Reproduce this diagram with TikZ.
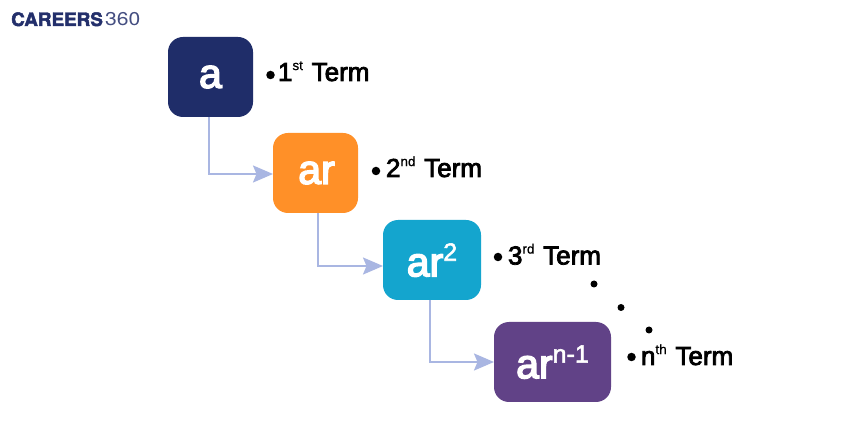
\documentclass[tikz,border=0pt]{standalone}
\usepackage{fontspec}
\setmainfont{Liberation Sans}
\newfontfamily\termfont[FakeBold=3]{Liberation Sans}
\newfontfamily\boxfont[FakeBold=3.5]{Liberation Sans}
\newfontfamily\logofont[FakeBold=2.5]{TeX Gyre Heros Bold}
\newfontfamily\logothin{TeX Gyre Heros}
\newfontfamily\supfont[FakeBold=0.8]{Liberation Sans}
\newfontfamily\boxsupfont[FakeBold=2.2]{Liberation Sans}
\usetikzlibrary{arrows.meta}
\definecolor{navy}{HTML}{1F2D69}
\definecolor{amber}{HTML}{FF9028}
\definecolor{sky}{HTML}{14A5CE}
\definecolor{plum}{HTML}{614287}
\definecolor{link}{HTML}{A9B6E2}
\definecolor{logoblue}{HTML}{232F6B}
\newcommand{\upper}[1]{\raisebox{0.42em}{\supfont\fontsize{13.5}{13.5}\selectfont #1}\hspace{1.5pt}}
\newcommand{\boxup}[1]{\raisebox{0.38em}{\boxsupfont\fontsize{25}{25}\selectfont #1}}
\tikzset{
  x=1pt,y=-1pt,
  termbox/.style={rounded corners=15pt,inner sep=0pt,outer sep=0pt,text=white,
    font=\boxfont\fontsize{41}{41}\selectfont,anchor=north west},
  termlabel/.style={inner sep=0pt,outer sep=0pt,anchor=base west,text=black,
    font=\termfont\fontsize{26}{26}\selectfont},
  spot/.style={circle,fill=black,inner sep=0pt,outer sep=0pt,minimum size=8.5pt},
  link line/.style={draw=link,line width=2pt,
    -{Stealth[length=20pt,width=17pt,inset=3.5pt,fill=link]}},
}
\begin{document}
\begin{tikzpicture}
  \useasboundingbox (0,0) rectangle (860,430);
  \fill[white] (0,0) rectangle (860,430);

  % brand mark
  \node[inner sep=0pt,anchor=base west,text=logoblue,font=\logofont\fontsize{18.5}{18.5}\selectfont] (brand) at (11,26) {\scalebox{1.02}[1]{CAREERS}};
  \node[inner sep=0pt,anchor=base west,text=logoblue!85,font=\logothin\fontsize{18.5}{18.5}\selectfont] (count) at (105,26) {\scalebox{1.14}[1]{360}};

  % term boxes
  \node[termbox,fill=navy,minimum width=85pt,minimum height=80pt] (a) at (168,37) {\raisebox{-2pt}{a}};
  \node[termbox,fill=amber,minimum width=85pt,minimum height=80pt] (b) at (273,133) {\raisebox{-2pt}{\hspace{2pt}ar}};
  \node[termbox,fill=sky,minimum width=98pt,minimum height=80pt] (c) at (383,220) {\raisebox{-2pt}{ar\boxup{2}}};
  \node[termbox,fill=plum,minimum width=117pt,minimum height=80pt] (d) at (494,322) {\raisebox{-2pt}{ar\boxup{n-1}}};

  % connectors
  \coordinate (bin) at ([yshift=-1pt]b.west);
  \coordinate (cin) at ([yshift=-6pt]c.west);
  \coordinate (din) at (d.west);
  \draw[link line] ([xshift=-1.5pt]a.south) |- (bin);
  \draw[link line] ([xshift=2.5pt]b.south) |- (cin);
  \draw[link line] ([xshift=-2pt]c.south) |- (din);

  % term labels with their bullets
  \node[spot] (s1) at (270.5,75) {};
  \node[termlabel] (t1) at (278,81) {1\upper{st} Term};
  \node[spot] (s2) at (376,171) {};
  \node[termlabel] (t2) at (386,177) {2\upper{nd} Term};
  \node[spot] (s3) at (498,257) {};
  \node[termlabel] (t3) at (508,264.5) {3\upper{rd} Term};
  \node[spot] (s4) at (631.5,357) {};
  \node[termlabel] (t4) at (641,365) {n\upper{th} Term};

  % ellipsis running down to the last term
  \node[spot,minimum size=7pt] (e1) at (594,284) {};
  \node[spot,minimum size=7pt] (e2) at (621,307.5) {};
  \node[spot,minimum size=7pt] (e3) at (649,330) {};
\end{tikzpicture}
\end{document}
